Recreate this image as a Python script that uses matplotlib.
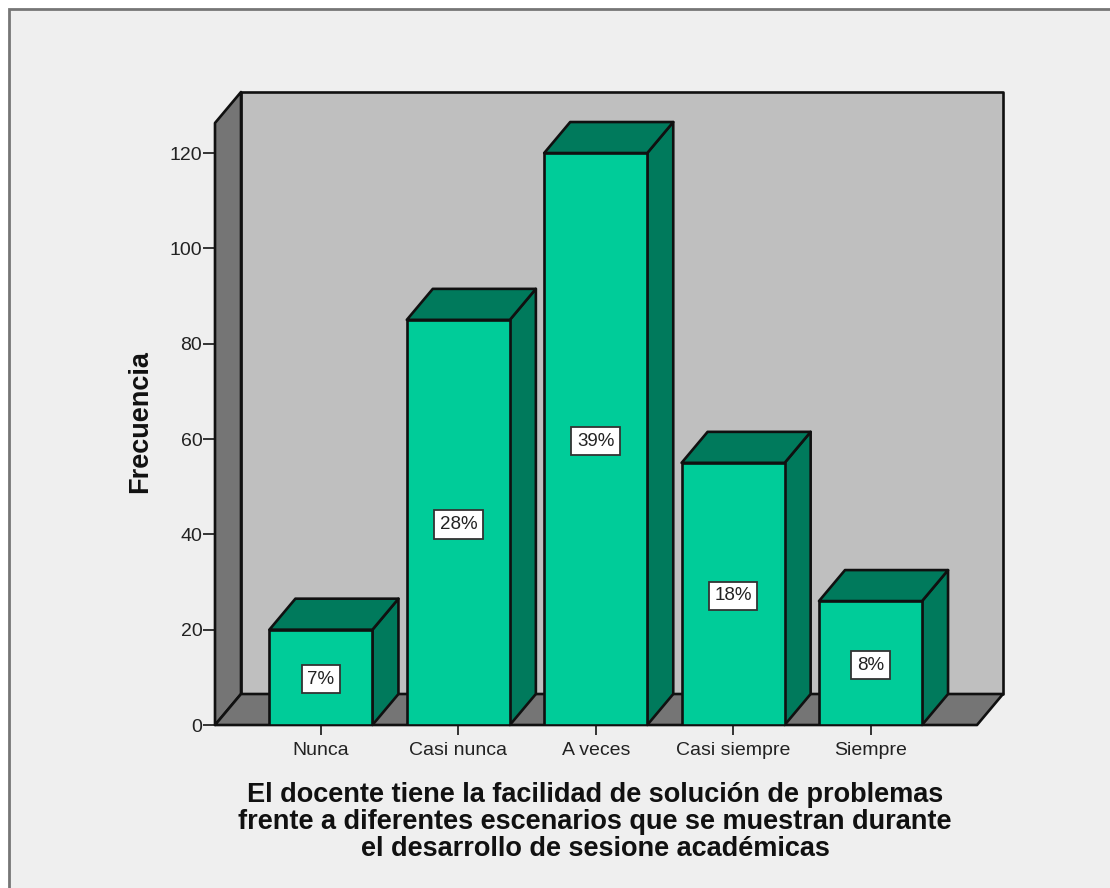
from matplotlib import pyplot as plt
from matplotlib.patches import Polygon, Rectangle

categories = ['Nunca', 'Casi nunca', 'A veces', 'Casi siempre', 'Siempre']
frecuencia = [20, 85, 120, 55, 26]
porcentaje = ['7%', '28%', '39%', '18%', '8%']
yticks = [0, 20, 40, 60, 80, 100, 120]
xtitle = ('El docente tiene la facilidad de solución de problemas\n'
          'frente a diferentes escenarios que se muestran durante\n'
          'el desarrollo de sesione académicas')

W, H = 1110, 888
plt.rcParams['font.family'] = ['Liberation Sans', 'DejaVu Sans']

fig = plt.figure(figsize=(W / 100, H / 100), dpi=100, facecolor='white')

# outer frame, only left and top edge fall inside the image
fig.add_artist(Rectangle((9 / W, -0.01), 1.1, 1 + 0.01 - 9.5 / H, transform=fig.transFigure,
                         facecolor='#efefef', edgecolor='#767676', linewidth=2, zorder=-1))

# the axes are the front plane of the 3D box
ax = fig.add_axes([215 / W, (H - 725) / H, (977 - 215) / W, (725 - 123) / H])
ax.patch.set_visible(False)
for s in ax.spines.values():
    s.set_visible(False)

ymax = 126.3
ax.set_xlim(-0.771, 4.775)
ax.set_ylim(0, ymax)

# depth of the box and of the bars in data units
dx = 26 / 137.4
dy = 31 / 4.767
bar_w = 0.75
EDGE = '#101010'
LW = 1.9


def poly(pts, color, z):
    ax.add_patch(Polygon(pts, closed=True, facecolor=color, edgecolor=EDGE, linewidth=LW,
                         joinstyle='round', clip_on=False, zorder=z))


x0, x1 = ax.get_xlim()
poly([(x0 + dx, dy), (x1 + dx, dy), (x1 + dx, ymax + dy), (x0 + dx, ymax + dy)], '#bfbfbf', 1)
poly([(x0, 0), (x0 + dx, dy), (x0 + dx, ymax + dy), (x0, ymax)], '#757575', 2)
poly([(x0, 0), (x1, 0), (x1 + dx, dy), (x0 + dx, dy)], '#757575', 2)

for i, (v, lab) in enumerate(zip(frecuencia, porcentaje)):
    l, r = i - bar_w / 2, i + bar_w / 2
    poly([(r, 0), (r + dx, dy), (r + dx, v + dy), (r, v)], '#007a5c', 3)
    poly([(l, v), (r, v), (r + dx, v + dy), (l + dx, v + dy)], '#007a5c', 3)
    ax.bar(i, v, width=bar_w, color='#00cc99', edgecolor=EDGE, linewidth=LW, zorder=4)
    ax.text(i, v / 2, lab, ha='center', va='center_baseline', fontsize=13.5, color='#222222', zorder=5,
            bbox=dict(boxstyle='square,pad=0.3', facecolor='white', edgecolor='#333333', linewidth=1.3))

ax.set_xticks(range(len(categories)))
ax.set_xticklabels(categories)
ax.set_yticks(yticks)
ax.tick_params(axis='x', length=7.5, width=1.4, color='#333333', pad=5, labelsize=14, labelcolor='#222222')
ax.tick_params(axis='y', length=8.6, width=1.4, color='#333333', pad=0.5, labelsize=14, labelcolor='#222222')

fig.text(140 / W, (H - 422) / H, 'Frecuencia', rotation=90, ha='center', va='center',
         fontsize=19.5, fontweight='bold', color='#111111')
fig.text(595 / W, (H - 822) / H, xtitle, ha='center', va='center', fontsize=19.5,
         fontweight='bold', color='#111111', linespacing=1.07)

fig.savefig('out.png', dpi=100)
